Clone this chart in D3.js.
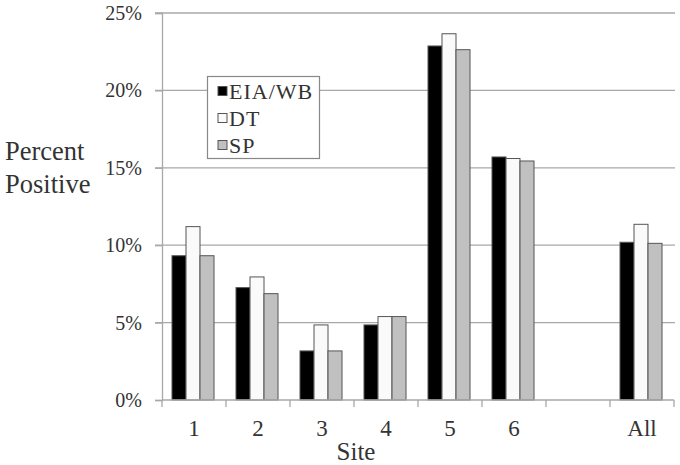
<!DOCTYPE html>
<html>
<head>
<meta charset="utf-8">
<script src="https://cdn.jsdelivr.net/npm/d3@7"></script>
<style>
  html, body { margin: 0; padding: 0; background: #fff; }
  svg { display: block; }
  text { font-family: "Liberation Serif", "Times New Roman", serif; fill: #333; }
</style>
</head>
<body>
<svg id="chart" width="680" height="465"></svg>
<script>
const categories = ["1", "2", "3", "4", "5", "6", "", "All"];
const seriesNames = ["EIA/WB", "DT", "SP"];
const eiaWb = [0.0932, 0.0726, 0.0317, 0.0485, 0.2287, 0.1570, null, 0.1019];
const dt    = [0.1120, 0.0795, 0.0485, 0.0539, 0.2366, 0.1560, null, 0.1135];
const sp    = [0.0932, 0.0687, 0.0317, 0.0539, 0.2263, 0.1544, null, 0.1012];
const yTicks = [0, 0.05, 0.10, 0.15, 0.20, 0.25];
const seriesColors = ["#000000", "#fafafa", "#c0c0c0"];

const svg = d3.select("#chart");

const x = d3.scaleBand().domain(categories).range([162, 674]).padding(0);
const xs = d3.scaleBand().domain(seriesNames).range([10, 52]).padding(0);
const y = d3.scaleLinear().domain([0, 0.25]).range([400, 13]);

// gridlines (extend left as tick marks)
svg.append("g").selectAll("line").data(yTicks.filter(d => d > 0)).join("line")
  .attr("x1", 155).attr("x2", 675)
  .attr("y1", d => y(d)).attr("y2", d => y(d))
  .attr("stroke", "#a8a8a8").attr("stroke-width", 1.3);

// y axis
const yAxis = d3.axisLeft(y).tickValues(yTicks).tickFormat(d3.format(".0%")).tickSize(7).tickPadding(13);
const gy = svg.append("g").attr("transform", "translate(162,0)").call(yAxis);
gy.select(".domain").attr("stroke", "#a8a8a8").attr("stroke-width", 1.3);
gy.selectAll(".tick line").attr("stroke", "#a8a8a8").attr("stroke-width", 1.3);
gy.selectAll(".tick text").attr("font-size", 20).attr("fill", "#333");

// bars
const data = [eiaWb, dt, sp];
const groups = svg.append("g").selectAll("g").data(seriesNames).join("g")
  .attr("fill", (d, i) => seriesColors[i]);
groups.selectAll("rect")
  .data((s, si) => categories.map((c, ci) => ({ c, s, v: data[si][ci] })).filter(d => d.v != null))
  .join("rect")
  .attr("x", d => x(d.c) + xs(d.s))
  .attr("width", xs.bandwidth())
  .attr("y", d => y(d.v))
  .attr("height", d => y(0) - y(d.v))
  .attr("stroke", "#555").attr("stroke-width", 1);

// x axis
const xAxisLine = svg.append("g");
xAxisLine.append("line").attr("x1", 162).attr("x2", 674).attr("y1", 400).attr("y2", 400)
  .attr("stroke", "#a8a8a8").attr("stroke-width", 1.3);
const boundaries = categories.map(c => x(c)).concat([x.range()[1]]);
xAxisLine.selectAll("line.tk").data(boundaries).join("line").attr("class", "tk")
  .attr("x1", d => d).attr("x2", d => d).attr("y1", 400).attr("y2", 407)
  .attr("stroke", "#a8a8a8").attr("stroke-width", 1.3);
svg.append("g").selectAll("text").data(categories).join("text")
  .attr("x", d => x(d) + x.bandwidth() / 2)
  .attr("y", 436)
  .attr("text-anchor", "middle")
  .attr("font-size", 23)
  .text(d => d);

// axis titles
svg.append("text").attr("x", 356).attr("y", 460).attr("text-anchor", "middle")
  .attr("font-size", 25).text("Site");
const yt = svg.append("text").attr("font-size", 26.5);
yt.append("tspan").attr("x", 5).attr("y", 160).text("Percent");
yt.append("tspan").attr("x", 5).attr("y", 193).text("Positive");

// legend
const lg = svg.append("g");
lg.append("rect").attr("x", 207.5).attr("y", 76.5).attr("width", 112).attr("height", 82)
  .attr("fill", "#fff").attr("stroke", "#888").attr("stroke-width", 1.2);
const rows = lg.selectAll("g").data(seriesNames).join("g")
  .attr("transform", (d, i) => `translate(0,${91 + i * 27})`);
rows.append("rect").attr("x", 218).attr("y", -4.5).attr("width", 9).attr("height", 9)
  .attr("fill", (d, i) => seriesColors[i]).attr("stroke", "#555").attr("stroke-width", 1);
rows.append("text").attr("x", 229).attr("y", 0).attr("dy", "0.35em")
  .attr("font-size", 22).attr("letter-spacing", 1).text(d => d);
</script>
</body>
</html>
